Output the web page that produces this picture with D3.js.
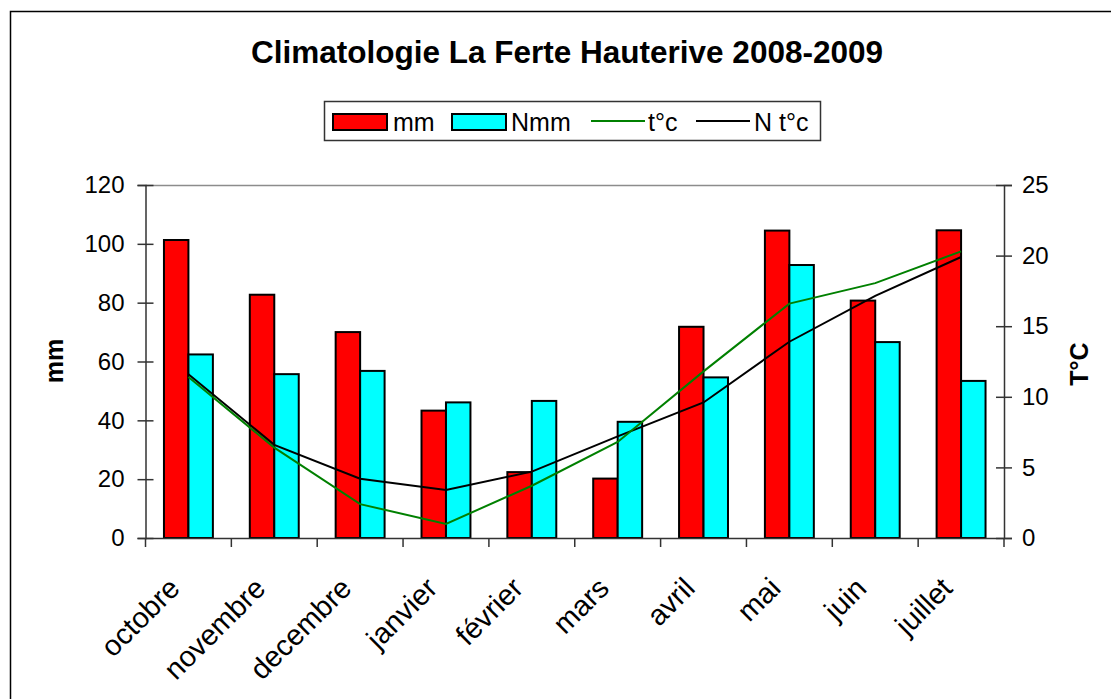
<!DOCTYPE html>
<html>
<head>
<meta charset="utf-8">
<script src="https://cdn.jsdelivr.net/npm/d3@7"></script>
<style>
  body { margin: 0; background: #fff; }
  text { font-family: "Liberation Sans", Arial, sans-serif; fill: #000; }
</style>
</head>
<body>
<svg id="chart" width="1111" height="699"></svg>
<script>
// data
var months = ['octobre', 'novembre', 'decembre', 'janvier', 'février', 'mars', 'avril', 'mai', 'juin', 'juillet'];
var mm = [101.3, 82.7, 70.0, 43.3, 22.4, 20.2, 71.8, 104.5, 80.7, 104.6];
var nmm = [62.4, 55.7, 56.8, 46.1, 46.6, 39.5, 54.6, 92.8, 66.6, 53.4];
var tc = [11.4, 6.4, 2.4, 1.0, 3.7, 6.8, 11.8, 16.6, 18.05, 20.3];
var ntc = [11.6, 6.6, 4.2, 3.4, 4.7, 7.2, 9.6, 13.9, 17.15, 19.9];
var mmTicks = [0, 20, 40, 60, 80, 100, 120];
var tTicks = [0, 5, 10, 15, 20, 25];

var svg = d3.select('#chart');
var margin = {left: 145.5, right: 1004, top: 185, bottom: 538};

svg.append('rect')
    .attr('x', 10.5).attr('y', 11.5)
    .attr('width', 1110).attr('height', 700)
    .attr('fill', '#fff').attr('stroke', '#000').attr('stroke-width', 1.5);

var x = d3.scaleBand().domain(months).range([margin.left, margin.right]).padding(0);
var bw = x.bandwidth();
var x1 = d3.scaleBand().domain(['mm', 'Nmm']).range([bw / 2 - bw * 0.285, bw / 2 + bw * 0.285]);
var y = d3.scaleLinear().domain([0, 120]).range([margin.bottom, margin.top]);
var yt = d3.scaleLinear().domain([0, 25]).range([margin.bottom, margin.top]);

// top border of plot area
svg.append('line')
    .attr('x1', margin.left).attr('x2', margin.right)
    .attr('y1', margin.top + 0.5).attr('y2', margin.top + 0.5)
    .attr('stroke', '#8c8c8c').attr('stroke-width', 1.5);

// bars
var series = [{key: 'mm', values: mm, color: '#ff0000'}, {key: 'Nmm', values: nmm, color: '#00ffff'}];
series.forEach(function(s) {
    svg.append('g').selectAll('rect')
        .data(s.values)
        .enter().append('rect')
        .attr('x', function(d, i) { return x(months[i]) + x1(s.key); })
        .attr('y', function(d) { return y(d); })
        .attr('width', x1.bandwidth())
        .attr('height', function(d) { return y(0) - y(d); })
        .attr('fill', s.color)
        .attr('stroke', '#000')
        .attr('stroke-width', 2);
});

// lines
var line = d3.line()
    .x(function(d, i) { return x(months[i]) + bw / 2; })
    .y(function(d) { return yt(d); });

svg.append('path').datum(ntc)
    .attr('d', line).attr('fill', 'none')
    .attr('stroke', '#000').attr('stroke-width', 2);
svg.append('path').datum(tc)
    .attr('d', line).attr('fill', 'none')
    .attr('stroke', '#008000').attr('stroke-width', 2);

// axes
var axisColor = '#333';
var leftAxis = svg.append('g').attr('transform', 'translate(' + margin.left + ',0)')
    .call(d3.axisLeft(y).tickValues(mmTicks).tickSize(8).tickPadding(13));
leftAxis.selectAll('.tick line').attr('x2', 8).attr('x1', -8);

var rightAxis = svg.append('g').attr('transform', 'translate(' + margin.right + ',0)')
    .call(d3.axisRight(yt).tickValues(tTicks).tickSize(8).tickPadding(10));
rightAxis.selectAll('.tick line').attr('x1', -8).attr('x2', 8);

var bottomAxis = svg.append('g').attr('transform', 'translate(0,' + margin.bottom + ')')
    .call(d3.axisBottom(x).tickSize(0).tickFormat(''));
var bounds = months.map(function(m) { return x(m); }).concat([margin.right]);
bottomAxis.selectAll('.bound').data(bounds).enter().append('line')
    .attr('x1', function(d) { return d; }).attr('x2', function(d) { return d; })
    .attr('y1', 0).attr('y2', 9)
    .attr('stroke', axisColor).attr('stroke-width', 1.5);

[leftAxis, rightAxis, bottomAxis].forEach(function(g) {
    g.select('.domain').attr('stroke', axisColor).attr('stroke-width', 1.5);
    g.selectAll('.tick line').attr('stroke', axisColor).attr('stroke-width', 1.5);
    g.selectAll('.tick text').style('font-size', '24px').attr('fill', '#000');
});

// month labels
svg.append('g').selectAll('text')
    .data(months)
    .enter().append('text')
    .attr('transform', function(d) {
        return 'translate(' + (x(d) + bw / 2 - 7) + ',590) rotate(-45)';
    })
    .attr('text-anchor', 'end')
    .style('font-size', '29px')
    .text(function(d) { return d; });

// title
svg.append('text')
    .attr('x', 567).attr('y', 63)
    .attr('text-anchor', 'middle')
    .style('font-size', '31.5px').style('font-weight', 'bold')
    .text('Climatologie La Ferte Hauterive 2008-2009');

// axis titles
svg.append('text')
    .attr('transform', 'translate(63,361) rotate(-90)')
    .attr('text-anchor', 'middle')
    .style('font-size', '25px').style('font-weight', 'bold')
    .text('mm');
svg.append('text')
    .attr('transform', 'translate(1088,364) rotate(-90)')
    .attr('text-anchor', 'middle')
    .style('font-size', '25px').style('font-weight', 'bold')
    .text('T°C');

// legend
var legend = svg.append('g');
legend.append('rect')
    .attr('x', 324.5).attr('y', 101.5).attr('width', 496).attr('height', 39)
    .attr('fill', '#fff').attr('stroke', '#333').attr('stroke-width', 1.5);

var legendItems = [
    {label: 'mm', type: 'bar', color: '#ff0000', x: 333, tx: 393},
    {label: 'Nmm', type: 'bar', color: '#00ffff', x: 452, tx: 511},
    {label: 't°c', type: 'line', color: '#008000', x: 591, tx: 648},
    {label: 'N t°c', type: 'line', color: '#000', x: 696, tx: 754}
];
legendItems.forEach(function(it) {
    if (it.type === 'bar') {
        legend.append('rect')
            .attr('x', it.x).attr('y', 114).attr('width', 54).attr('height', 16)
            .attr('fill', it.color).attr('stroke', '#000').attr('stroke-width', 2);
    } else {
        legend.append('line')
            .attr('x1', it.x).attr('x2', it.x + 54).attr('y1', 121).attr('y2', 121)
            .attr('stroke', it.color).attr('stroke-width', 2);
    }
    legend.append('text')
        .attr('x', it.tx).attr('y', 131)
        .style('font-size', '25px')
        .text(it.label);
});
</script>
</body>
</html>
